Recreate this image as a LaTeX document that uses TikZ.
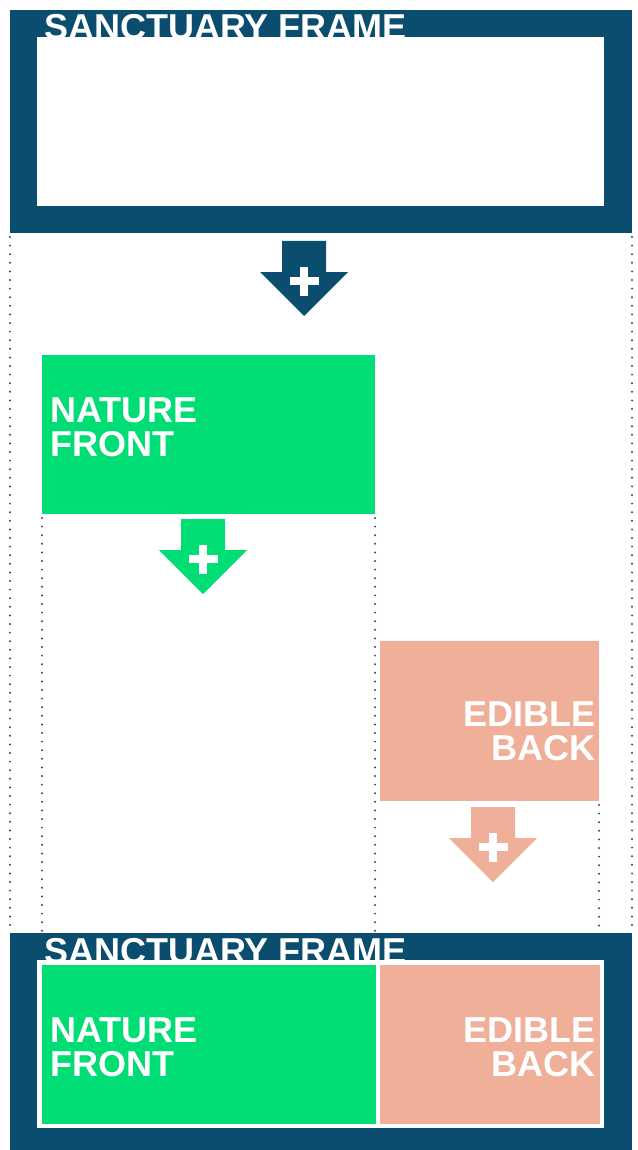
\documentclass[tikz,border=0pt]{standalone}
\usepackage{fontspec}
\setmainfont{Liberation Sans}
\usetikzlibrary{positioning}

\definecolor{frameblue}{HTML}{0A4D6E}
\definecolor{naturegreen}{HTML}{00DD74}
\definecolor{ediblesalmon}{HTML}{F0AF98}
\definecolor{guidegray}{HTML}{444444}

% block arrow with a plus: colour, centre x, top y
\newcommand{\plusarrow}[3]{%
  \fill[#1] (#2-22,#3) -- (#2+22,#3) -- (#2+22,#3+31) -- (#2+44,#3+31)
    -- (#2,#3+75) -- (#2-44,#3+31) -- (#2-22,#3+31) -- cycle;
  \fill[white] (#2-14.5,#3+36) rectangle (#2+14.5,#3+44);
  \fill[white] (#2-4,#3+25.5) rectangle (#2+4,#3+54.5);
}

\begin{document}
\begin{tikzpicture}[x=1pt,y=-1pt,
    box/.style={rectangle,inner sep=0,outer sep=0,anchor=north west},
    lbl/.style={text=white,inner sep=0,font=\bfseries\fontsize{36}{34}\selectfont},
    guide/.style={guidegray,line width=2.2pt,line cap=round,dash pattern=on 0pt off 8.6pt}]
  \useasboundingbox (0,0) rectangle (637,1150);

  % Rahmen oben
  \node[box,fill=frameblue,minimum width=622,minimum height=223] (topframe) at (10,10) {};
  \node[box,fill=white,minimum width=567,minimum height=169] (topinner) at (37,37) {};
  \node[lbl,anchor=base west] (toptitle) at (44,40) {SANCTUARY FRAME};

  % Bausteine
  \node[box,fill=naturegreen,minimum width=333,minimum height=159] (nature) at (42,355) {};
  \node[lbl,align=left,anchor=west] (naturetxt) at (50,427) {NATURE\\FRONT};
  \node[box,fill=ediblesalmon,minimum width=219,minimum height=160] (edible) at (380,641) {};
  \node[lbl,align=right,anchor=east] (edibletxt) at (596,731) {EDIBLE\\BACK};

  % Rahmen unten
  \node[box,fill=frameblue,minimum width=622,minimum height=217] (botframe) at (10,933) {};
  \node[box,fill=white,minimum width=567,minimum height=168] (botinner) at (37,960) {};
  \node[box,fill=naturegreen,minimum width=334,minimum height=159] (botnature) at (42,965) {};
  \node[box,fill=ediblesalmon,minimum width=220,minimum height=159] (botedible) at (380,965) {};
  \node[lbl,anchor=base west] (bottitle) at (44,963) {SANCTUARY FRAME};
  \node[lbl,align=left,anchor=west] (botnaturetxt) at (50,1047) {NATURE\\FRONT};
  \node[lbl,align=right,anchor=east] (botedibletxt) at (596,1047) {EDIBLE\\BACK};

  % Hilfslinien
  \draw[guide] ([yshift=-4pt]topframe.south west) -- (botframe.north west);
  \draw[guide] ([yshift=-4pt]topframe.south east) -- (botframe.north east);
  \draw[guide] ([yshift=-4pt]nature.south west) -- (nature.south west |- botframe.north);
  \draw[guide] ([yshift=-4pt]nature.south east) -- (nature.south east |- botframe.north);
  \draw[guide] ([yshift=-4pt]edible.south east) -- (edible.south east |- botframe.north);

  % Pfeile
  \plusarrow{frameblue}{304}{241}
  \plusarrow{naturegreen}{203}{519}
  \plusarrow{ediblesalmon}{493}{807}
\end{tikzpicture}
\end{document}
